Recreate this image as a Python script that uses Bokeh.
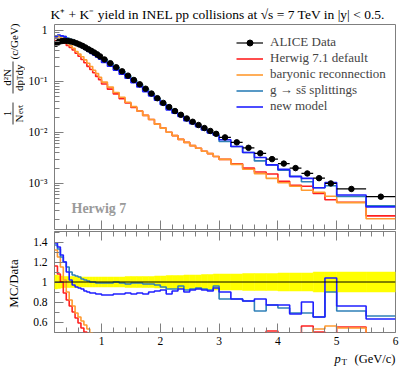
import numpy as np
from math import pi
from bokeh.plotting import figure
from bokeh.layouts import column, row
from bokeh.models import (Range1d, FixedTicker, CustomJSTickFormatter, Label, Legend,
                          LegendItem, LinearAxis, Span)
from bokeh.embed import file_html
from bokeh.resources import INLINE

# ---------------- data ----------------
edges = [0.20, 0.25, 0.30, 0.35, 0.40, 0.45, 0.50, 0.55, 0.60, 0.65, 0.70, 0.75, 0.80,
         0.85, 0.90, 0.95, 1.00, 1.10, 1.20, 1.30, 1.40, 1.50, 1.60, 1.70, 1.80, 1.90,
         2.00, 2.10, 2.20, 2.30, 2.40, 2.50, 2.60, 2.70, 2.80, 2.90, 3.00, 3.20, 3.40,
         3.60, 3.80, 4.00, 4.20, 4.40, 4.60, 4.80, 5.00, 5.50, 6.00]

alice_yield = [0.55, 0.60, 0.62, 0.63, 0.62, 0.61, 0.59, 0.56, 0.53, 0.50, 0.465, 0.43,
               0.40, 0.37, 0.34, 0.31,
               0.27, 0.228, 0.19, 0.158, 0.130, 0.107, 0.088, 0.072, 0.058, 0.047,
               0.038, 0.0315, 0.0263, 0.0222, 0.0188, 0.0162, 0.0140, 0.0122, 0.0107, 0.0094,
               0.0080, 0.0064, 0.0050, 0.0039, 0.0030, 0.00245, 0.0020, 0.00157, 0.00127, 0.00100,
               0.00078, 0.00055]

alice_relerr = [0.07, 0.065, 0.06, 0.055, 0.055, 0.055, 0.055, 0.055, 0.05, 0.05, 0.05, 0.05,
                0.05, 0.05, 0.05, 0.05,
                0.05, 0.05, 0.05, 0.05, 0.055, 0.055, 0.055, 0.055, 0.055, 0.06,
                0.06, 0.065, 0.065, 0.065, 0.07, 0.07, 0.07, 0.075, 0.075, 0.08,
                0.08, 0.08, 0.085, 0.085, 0.085, 0.09, 0.09, 0.09, 0.1, 0.1,
                0.1, 0.1]

ratio_default = [1.16, 1.08, 1.00, 0.89, 0.82, 0.76, 0.70, 0.64, 0.59, 0.54, 0.50, 0.46,
                 0.43, 0.40, 0.37, 0.35,
                 0.33, 0.31, 0.30, 0.29, 0.29, 0.29, 0.30, 0.30, 0.31, 0.31,
                 0.32, 0.32, 0.33, 0.33, 0.34, 0.34, 0.35, 0.35, 0.36, 0.36,
                 0.37, 0.38, 0.40, 0.43, 0.51, 0.45, 0.46, 0.56, 0.50, 0.48,
                 0.55, 0.42]

ratio_baryonic = [1.32, 1.25, 1.15, 1.02, 0.90, 0.82, 0.76, 0.69, 0.65, 0.61, 0.57, 0.53,
                  0.49, 0.45, 0.42, 0.39,
                  0.36, 0.34, 0.32, 0.31, 0.30, 0.30, 0.30, 0.30, 0.31, 0.31,
                  0.32, 0.32, 0.33, 0.33, 0.34, 0.34, 0.35, 0.35, 0.36, 0.36,
                  0.37, 0.37, 0.38, 0.40, 0.42, 0.42, 0.44, 0.47, 0.53, 0.56,
                  0.54, 0.37]

ratio_gss = [1.37, 1.33, 1.25, 1.20, 1.15, 1.10, 1.07, 1.06, 1.05, 1.03, 1.02, 1.01,
             1.00, 1.00, 0.99, 0.99,
             0.99, 0.99, 1.00, 0.99, 0.98, 0.99, 0.99, 0.98, 0.98, 0.97,
             0.95, 0.93, 0.93, 0.96, 0.92, 0.93, 0.94, 0.93, 0.92, 0.96,
             0.83, 0.83, 0.81, 0.71, 0.77, 0.74, 0.69, 0.69, 0.65, 0.90,
             0.71, 0.66]

ratio_new = [1.39, 1.35, 1.27, 1.20, 1.10, 1.02, 0.97, 0.95, 0.94, 0.93, 0.91, 0.90,
             0.89, 0.89, 0.88, 0.88,
             0.87, 0.87, 0.88, 0.88, 0.89, 0.88, 0.89, 0.88, 0.90, 0.91,
             0.92, 0.88, 0.91, 0.93, 0.90, 0.92, 0.93, 0.92, 0.91, 0.94,
             0.90, 0.83, 0.81, 0.83, 0.77, 0.77, 0.68, 0.80, 0.65, 1.04,
             0.76, 0.63]

series_names = ["Herwig 7.1 default", "baryonic reconnection",
                "g \u2192 ss\u0304 splittings", "new model"]
series_ratios = [ratio_default, ratio_baryonic, ratio_gss, ratio_new]
series_colors = ["#ff2020", "#ff9a30", "#2f80b8", "#2020ff"]

title_text = "K\u207a + K\u207b yield in INEL pp collisions at \u221as = 7 TeV in |y| < 0.5."

x_major = [1, 2, 3, 4, 5, 6]
x_minor = [round(0.2 * k, 1) for k in range(1, 30)]
ratio_major = [0.6, 0.8, 1.0, 1.2, 1.4]
ratio_minor = [0.5, 0.7, 0.9, 1.1, 1.3, 1.5]
log_major = [1e-3, 1e-2, 1e-1, 1.0]
log_minor = [k * 10.0 ** d for d in range(-4, 1) for k in range(2, 10)]

# ---------------- derived arrays ----------------
e = np.array(edges)
lo, hi = e[:-1], e[1:]
mid = 0.5 * (lo + hi)
dat = np.array(alice_yield)
rel = np.array(alice_relerr)

FONT = "Liberation Serif"
GRAY = "#7f7f7f"
W = 405          # total width
LW = 25          # width of the y-label column
MW = W - LW      # width of the panels column
TOP_H = 22       # title strip height
PANEL_H = 208 + 119
XL_H = 18        # x-label strip height


def style_axis(ax, labels=True, standoff=8):
    ax.axis_line_color = None
    ax.major_tick_in = 9
    ax.major_tick_out = 0
    ax.minor_tick_in = 5
    ax.minor_tick_out = 0
    ax.major_tick_line_color = GRAY
    ax.minor_tick_line_color = GRAY
    ax.major_label_text_font = FONT
    ax.axis_label = None
    if labels:
        ax.major_label_text_font_size = "11.5px"
        ax.major_label_text_color = "black"
        ax.major_label_standoff = standoff
    else:
        ax.major_label_text_font_size = "0px"
        ax.major_label_text_color = None
        ax.major_label_standoff = 0


def plain_fig(width, height, x0, x1, y0, y1):
    f = figure(width=width, height=height, x_range=Range1d(x0, x1), y_range=Range1d(y0, y1),
               output_backend="svg", toolbar_location=None,
               x_axis_location=None, y_axis_location=None,
               min_border_left=0, min_border_right=0, min_border_top=0, min_border_bottom=0)
    f.grid.visible = False
    f.outline_line_color = None
    f.background_fill_color = "white"
    f.border_fill_color = "white"
    return f


def tlab(fig, x, y, text, size="13px", style="normal", angle=0.0, align="left",
         baseline="alphabetic", color="black", units="data"):
    fig.add_layout(Label(x=x, y=y, x_units=units, y_units=units, text=text,
                         text_font=FONT, text_font_size=size, text_font_style=style,
                         angle=angle, text_align=align, text_baseline=baseline,
                         text_color=color))


# ---------------- title strip (data units = canvas pixels) ----------------
title_fig = plain_fig(W, TOP_H, 0, W, TOP_H, 0)
tlab(title_fig, 50, 14, title_text, size="13.5px")

# ---------------- top panel ----------------
top = figure(width=MW, height=208, y_axis_type="log",
             x_range=Range1d(0.2, 6.0), y_range=Range1d(1.25e-4, 1.31),
             output_backend="svg", toolbar_location=None,
             min_border_left=26, min_border_right=10, min_border_top=2, min_border_bottom=1)
top.grid.visible = False
top.outline_line_color = GRAY
top.outline_line_width = 1
top.background_fill_color = "white"
top.border_fill_color = "white"

style_axis(top.xaxis[0], labels=False)
top.xaxis[0].ticker = FixedTicker(ticks=x_major, minor_ticks=x_minor)
style_axis(top.yaxis[0], labels=True, standoff=7)
top.yaxis[0].ticker = FixedTicker(ticks=log_major, minor_ticks=log_minor)
top.yaxis[0].formatter = CustomJSTickFormatter(code="""
const e = Math.round(Math.log10(tick));
if (e === 0) { return "1"; }
const m = {"-": "\u207b", "0": "\u2070", "1": "\u00b9", "2": "\u00b2", "3": "\u00b3", "4": "\u2074"};
return "10" + String(e).split("").map(c => m[c]).join("");
""")

items = []
for name, ratio, col in zip(series_names, series_ratios, series_colors):
    mc = dat * np.array(ratio)
    r = top.step(x=list(edges), y=list(mc) + [mc[-1]], mode="after",
                 line_color=col, line_width=1.6)
    items.append(LegendItem(label=name, renderers=[r]))

seg_h = top.segment(x0=lo, x1=hi, y0=dat, y1=dat, line_color="black", line_width=1.2)
top.segment(x0=mid, x1=mid, y0=dat * (1 - rel), y1=dat * (1 + rel),
            line_color="black", line_width=1.2)
pts = top.scatter(x=mid, y=dat, size=5.5, marker="circle",
                  fill_color="black", line_color="black")
items.insert(0, LegendItem(label="ALICE Data", renderers=[seg_h, pts]))

legend = Legend(items=items, location=(182, 115), background_fill_alpha=0.0,
                border_line_color=None, label_text_font=FONT, label_text_font_size="13px",
                glyph_width=27, glyph_height=15, label_height=15, spacing=0, padding=0,
                margin=0, label_standoff=7)
top.add_layout(legend)

tlab(top, 17, 21, "Herwig 7", size="14px", style="bold", color="#9a9a9a", units="screen")

# ---------------- ratio panel ----------------
bot = figure(width=MW, height=119, x_range=top.x_range, y_range=Range1d(0.495, 1.505),
             output_backend="svg", toolbar_location=None,
             min_border_left=26, min_border_right=10, min_border_top=1, min_border_bottom=17)
bot.grid.visible = False
bot.outline_line_color = GRAY
bot.outline_line_width = 1
bot.background_fill_color = "white"
bot.border_fill_color = "white"

style_axis(bot.xaxis[0], labels=True, standoff=4)
bot.xaxis[0].ticker = FixedTicker(ticks=x_major, minor_ticks=x_minor)
above = LinearAxis()
style_axis(above, labels=False)
above.ticker = FixedTicker(ticks=x_major, minor_ticks=x_minor)
bot.add_layout(above, "above")
style_axis(bot.yaxis[0], labels=True, standoff=7)
bot.yaxis[0].ticker = FixedTicker(ticks=ratio_major, minor_ticks=ratio_minor)
bot.yaxis[0].formatter = CustomJSTickFormatter(code="return String(Math.round(tick * 10) / 10);")

bot.quad(left=lo, right=hi, bottom=1 - rel, top=1 + rel, fill_color="#ffff00",
         line_color="#ffff00", line_width=0.5)
bot.add_layout(Span(location=1.0, dimension="width", line_color="black", line_width=1))
for ratio, col in zip(series_ratios, series_colors):
    bot.step(x=list(edges), y=list(ratio) + [ratio[-1]], mode="after",
             line_color=col, line_width=1.6)

# ---------------- y-label column (data units = canvas pixels) ----------------
ylab = plain_fig(LW, PANEL_H, 0, LW, TOP_H + PANEL_H, TOP_H)
R = pi / 2
tlab(ylab, 13, 41, "(c/GeV)", size="11px", angle=R, align="center", baseline="middle")
tlab(ylab, 6.5, 77, "d\u00b2N", size="11px", angle=R, align="center", baseline="middle")
ylab.segment(x0=[12.5, 12.5], x1=[12.5, 12.5], y0=[61, 102], y1=[93, 124],
             line_color="black", line_width=0.8)
tlab(ylab, 18, 85, "dp", size="11px", angle=R, align="center", baseline="middle")
tlab(ylab, 20, 77.5, "T", size="7.5px", angle=R, align="center", baseline="middle")
tlab(ylab, 18, 69.5, "dy", size="11px", angle=R, align="center", baseline="middle")
tlab(ylab, 6.5, 113, "1", size="11px", angle=R, align="center", baseline="middle")
tlab(ylab, 18, 118, "N", size="11px", angle=R, align="center", baseline="middle")
tlab(ylab, 20, 109, "evt", size="7.5px", angle=R, align="center", baseline="middle")
tlab(ylab, 13, 283, "MC/Data", size="13px", angle=R, align="center", baseline="middle")

# ---------------- x-label strip (data units = canvas pixels) ----------------
y_xl = TOP_H + PANEL_H
xlab_fig = plain_fig(W, XL_H, 0, W, y_xl + XL_H, y_xl)
tlab(xlab_fig, 334, 358, "p", size="12.5px", style="italic", align="left", baseline="middle")
tlab(xlab_fig, 341, 361, "T", size="9px", align="left", baseline="middle")
tlab(xlab_fig, 395, 358, "(GeV/c)", size="12.5px", align="right", baseline="middle")

layout = column(title_fig, row(ylab, column(top, bot)), xlab_fig)
open("out.html", "w").write(file_html(layout, INLINE))
